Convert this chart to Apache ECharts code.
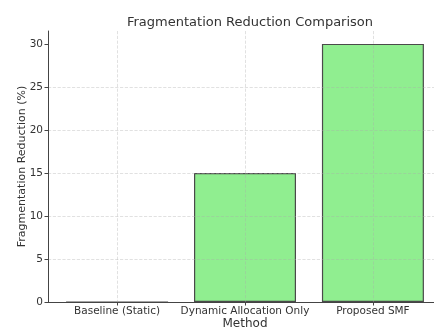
<!DOCTYPE html>
<html>
<head>
    <meta charset="utf-8">
    <title>Fragmentation Reduction Comparison</title>
    <script src="https://cdn.jsdelivr.net/npm/echarts@6/dist/echarts.min.js"></script>
    <style>
        html, body { margin: 0; padding: 0; background: #fff; }
        #main { width: 434px; height: 329px; }
    </style>
</head>
<body>
    <div id="main"></div>
    <script type="text/javascript">
        // data
        var methods = ['Baseline (Static)', 'Dynamic Allocation Only', 'Proposed SMF'];
        var reduction = [0, 15, 30];
        var yTicks = [0, 5, 10, 15, 20, 25, 30];

        var font = 'DejaVu Sans';
        var gridColor = 'rgba(170,170,170,0.45)';
        var myChart = echarts.init(document.getElementById('main'));

        var barData = methods.map(function (m, i) { return [i, reduction[i]]; });

        myChart.setOption({
            animation: false,
            title: {
                text: 'Fragmentation Reduction Comparison',
                left: 245,
                textAlign: 'center',
                top: 11,
                textStyle: { fontFamily: font, fontSize: 13, fontWeight: 'normal', color: '#333' }
            },
            grid: { left: 48, top: 31, bottom: 27, width: 394, containLabel: false, outerBoundsMode: 'none' },
            xAxis: {
                type: 'value',
                z: 3,
                min: -0.54,
                max: 2.54,
                name: 'Method',
                nameLocation: 'middle',
                nameGap: 16,
                nameMoveOverlap: false,
                nameTextStyle: { fontFamily: font, fontSize: 12, color: '#333' },
                axisLine: { onZero: false, lineStyle: { color: '#444', width: 1 } },
                axisTick: { show: true, length: 3.5, customValues: [0, 1, 2], lineStyle: { color: '#444' } },
                axisLabel: {
                    customValues: [0, 1, 2],
                    fontFamily: font, fontSize: 10.5, color: '#333', margin: 4,
                    formatter: function (v) { return methods[Math.round(v)]; }
                },
                splitLine: { show: true, lineStyle: { color: gridColor, type: 'dashed', width: 0.8 } }
            },
            yAxis: {
                type: 'value',
                z: 3,
                min: 0,
                max: 31.5,
                name: 'Fragmentation Reduction (%)',
                nameLocation: 'middle',
                nameGap: 20,
                nameMoveOverlap: false,
                nameTextStyle: { fontFamily: font, fontSize: 11, color: '#333' },
                axisLine: { show: true, onZero: false, lineStyle: { color: '#444', width: 1 } },
                axisTick: { show: true, length: 3.5, customValues: yTicks, lineStyle: { color: '#444' } },
                axisLabel: { customValues: yTicks, fontFamily: font, fontSize: 10.5, color: '#333', margin: 5 },
                splitLine: { show: true, showMaxLine: false, lineStyle: { color: gridColor, type: 'dashed', width: 0.8 } }
            },
            series: [{
                type: 'bar',
                data: barData,
                barWidth: 102,
                itemStyle: { color: '#90ee90', borderColor: '#4a4a4a', borderWidth: 1.2 }
            }]
        });
    </script>
</body>
</html>
